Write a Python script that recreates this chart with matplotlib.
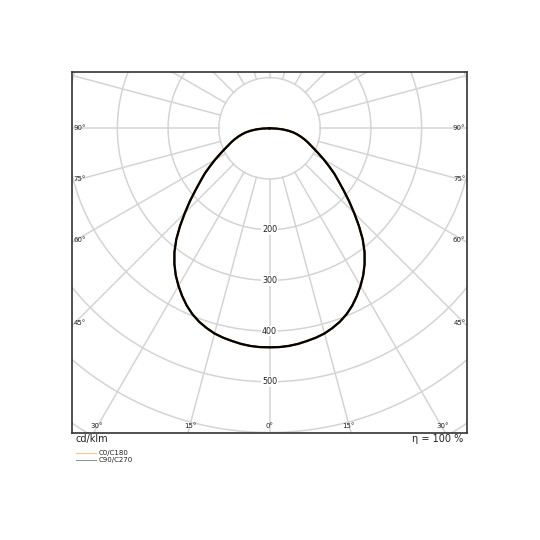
import numpy as np
import matplotlib
matplotlib.use("Agg")
import matplotlib.pyplot as plt

# gamma angles (deg from nadir) and intensities in cd/klm
gamma = [0, 2.5, 5, 7.5, 10, 12.5, 15, 17.5, 20, 22.5, 25, 27.5, 30, 32.5, 35, 37.5,
         40, 42.5, 45, 47.5, 50, 52.5, 55, 57.5, 60, 62.5, 65, 67.5, 70, 72.5, 75,
         77.5, 80, 82.5, 85, 87.5, 90]
c0_c180 = [432, 432, 431, 429, 426, 423, 419, 413, 406, 397, 386, 373, 359, 344, 327, 308,
           286, 261, 236, 213, 191, 172, 156, 139, 124, 110, 98, 88, 80, 72, 64,
           56, 48, 38, 27, 14, 0]
c90_c270 = [432, 432, 431, 429, 426, 423, 419, 413, 406, 397, 386, 373, 359, 344, 327, 308,
            286, 261, 236, 213, 191, 172, 156, 139, 124, 110, 98, 88, 80, 72, 64,
            56, 48, 38, 27, 14, 0]

ring_values = [100, 200, 300, 400, 500, 600, 700]
ring_labels = [200, 300, 400, 500]
edge_angles = [90, 75, 60, 45]
bottom_angles = [30, 15, 0, 15, 30]

grid_color = "#d4d4d4"


def to_xy(angles, values, side):
    a = np.radians(angles)
    r = np.array(values, dtype=float)
    return side * r * np.sin(a), -r * np.cos(a)


fig = plt.figure(figsize=(5.4, 5.4), dpi=100)
ax = fig.add_axes([72 / 540, 107 / 540, 395 / 540, 361 / 540])
ax.set_xlim(-389.5, 389.5)
ax.set_ylim(-601, 111)
ax.set_xticks([])
ax.set_yticks([])
for s in ax.spines.values():
    s.set_color("#333333")
    s.set_linewidth(1.2)

# grid: circles and radial lines
t = np.linspace(0, 2 * np.pi, 400)
for rv in ring_values:
    ax.plot(rv * np.cos(t), rv * np.sin(t), color=grid_color, lw=1.1, zorder=1)
for deg in range(0, 360, 15):
    a = np.radians(deg)
    ax.plot([100 * np.sin(a), 900 * np.sin(a)], [-100 * np.cos(a), -900 * np.cos(a)],
            color=grid_color, lw=1.1, zorder=1)

# ring labels
for rv in ring_labels:
    ax.text(0, -rv, str(rv), ha="center", va="center", fontsize=5.8, color="#222222",
            bbox=dict(facecolor="white", edgecolor="none", pad=0.6), zorder=2)

# curves (left half mirrors the right half)
for vals, col, lw, z in [(c0_c180, "#3a2200", 1.7, 3), (c90_c270, "black", 1.3, 4)]:
    xr, yr = to_xy(gamma, vals, 1)
    xl, yl = to_xy(gamma[::-1], vals[::-1], -1)
    ax.plot(np.concatenate([xl, xr]), np.concatenate([yl, yr]), color=col, lw=lw,
            zorder=z, solid_joinstyle="round")

# angle labels on the side edges
x_left, x_right = ax.get_xlim()
y_bottom = ax.get_ylim()[0]
for deg in edge_angles:
    yy = -abs(x_left) / np.tan(np.radians(deg)) if deg != 90 else 0
    yy += 5 if deg != 90 else 0
    ax.text(x_left + 3, yy, f"{deg}°", ha="left", va="center", fontsize=5, color="#222222", zorder=5)
    ax.text(x_right - 3, yy, f"{deg}°", ha="right", va="center", fontsize=5, color="#222222", zorder=5)

# angle labels on the bottom edge
signs = [-1, -1, 0, 1, 1]
for deg, sgn in zip(bottom_angles, signs):
    xx = sgn * abs(y_bottom) * np.tan(np.radians(deg))
    xx -= sgn * 6
    ax.text(xx, y_bottom + 8, f"{deg}°", ha="center", va="bottom", fontsize=5, color="#222222", zorder=5)

fig.text(76 / 540, 1 - 439 / 540, "cd/klm", ha="left", va="center", fontsize=7, color="#222222")
fig.text(463 / 540, 1 - 439 / 540, "η = 100 %", ha="right", va="center", fontsize=7, color="#222222")

# legend
fig.lines.append(plt.Line2D([76 / 540, 96 / 540], [1 - 453.3 / 540] * 2, transform=fig.transFigure,
                            color="#f7c98a", lw=0.8))
fig.lines.append(plt.Line2D([76 / 540, 96 / 540], [1 - 460 / 540] * 2, transform=fig.transFigure,
                            color="#8a9898", lw=0.8))
fig.text(99 / 540, 1 - 453.3 / 540, "C0/C180", ha="left", va="center", fontsize=5, color="#222222")
fig.text(99 / 540, 1 - 460 / 540, "C90/C270", ha="left", va="center", fontsize=5, color="#222222")

fig.savefig("out.png", dpi=100)
